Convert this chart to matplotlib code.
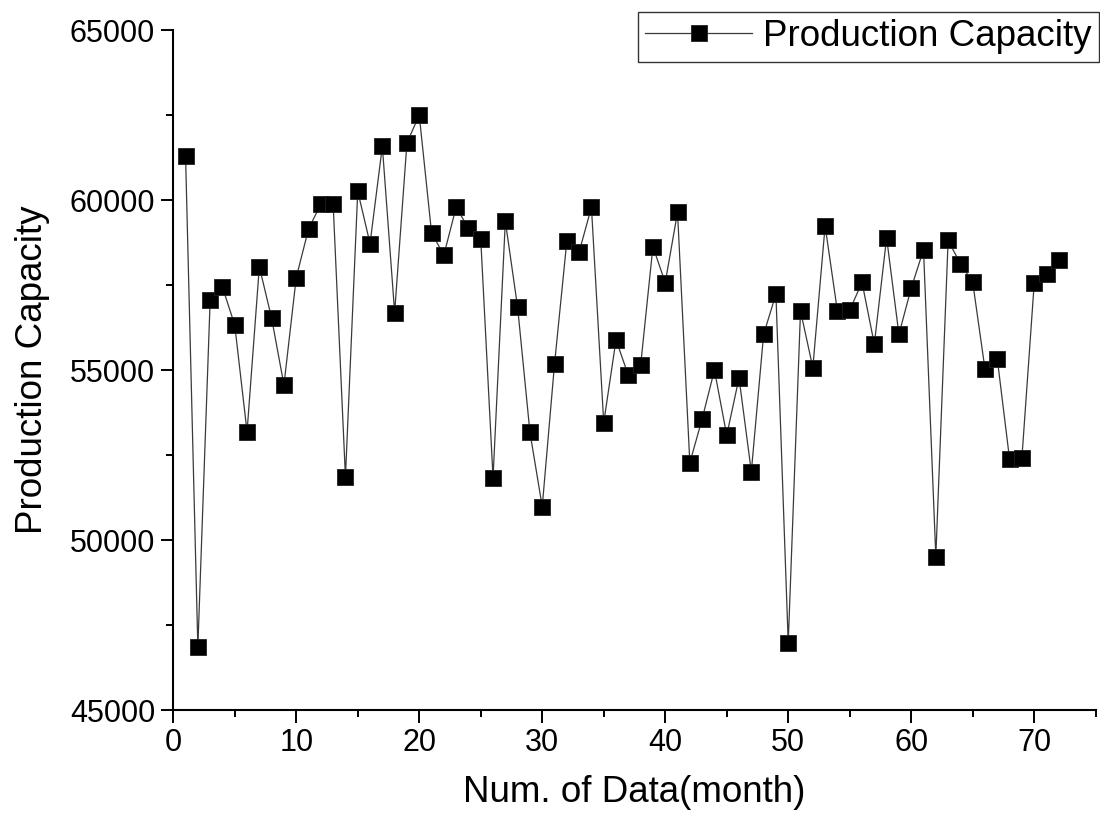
import matplotlib
matplotlib.use("Agg")
import matplotlib.pyplot as plt
from matplotlib.ticker import MultipleLocator

plt.rcParams['font.family'] = ['Liberation Sans', 'DejaVu Sans']

months = list(range(1, 73))
capacity = [
    61300, 46850, 57050, 57440, 56320, 53180, 58040, 56520, 54560, 57720,
    59150, 59880, 59880, 51850, 60260, 58720, 61580, 56690, 61680, 62500,
    59040, 58380, 59790, 59170, 58850, 51830, 59380, 56840, 53170, 50980,
    55180, 58790, 58470, 59790, 53450, 55890, 54840, 55140, 58630, 57570,
    59640, 52270, 53560, 55000, 53080, 54770, 52010, 56050, 57230, 46970,
    56740, 55070, 59240, 56730, 56760, 57580, 55760, 58890, 56050, 57410,
    58540, 49510, 58810, 58130, 57580, 55020, 55320, 52370, 52420, 57550,
    57830, 58240,
]
series_label = "Production Capacity"
x_label = "Num. of Data(month)"
y_label = "Production Capacity"

fig = plt.figure(figsize=(11, 8.23), dpi=100)
ax = fig.add_axes([0.1575, 0.1373, 0.8386, 0.8262])

ax.plot(months, capacity, color='#3a3a3a', lw=0.9, marker='s', markersize=11,
        markerfacecolor='black', markeredgecolor='#202020', markeredgewidth=0.6,
        label=series_label)

ax.set_xlim(0, 75)
ax.set_ylim(45000, 65000)
ax.xaxis.set_major_locator(MultipleLocator(10))
ax.xaxis.set_minor_locator(MultipleLocator(5))
ax.yaxis.set_major_locator(MultipleLocator(5000))
ax.yaxis.set_minor_locator(MultipleLocator(2500))

for s in ['top', 'right']:
    ax.spines[s].set_visible(False)
for s in ['left', 'bottom']:
    ax.spines[s].set_linewidth(1.5)

ax.tick_params(which='major', direction='out', length=9, width=1.4, labelsize=22, pad=4)
ax.tick_params(which='minor', direction='out', length=5, width=1.4)

ax.set_xlabel(x_label, fontsize=26.5, labelpad=12)
ax.set_ylabel(y_label, fontsize=26.5, labelpad=14)

leg = fig.legend(loc='upper right', bbox_to_anchor=(1099 / 1100, 1 - 12 / 823),
                 fontsize=26.5, frameon=True, fancybox=False, edgecolor='black',
                 handlelength=2.9, handletextpad=0.3, borderpad=0.2,
                 borderaxespad=0.0)
leg.get_frame().set_linewidth(1.0)

fig.savefig('out.png', dpi=100)
